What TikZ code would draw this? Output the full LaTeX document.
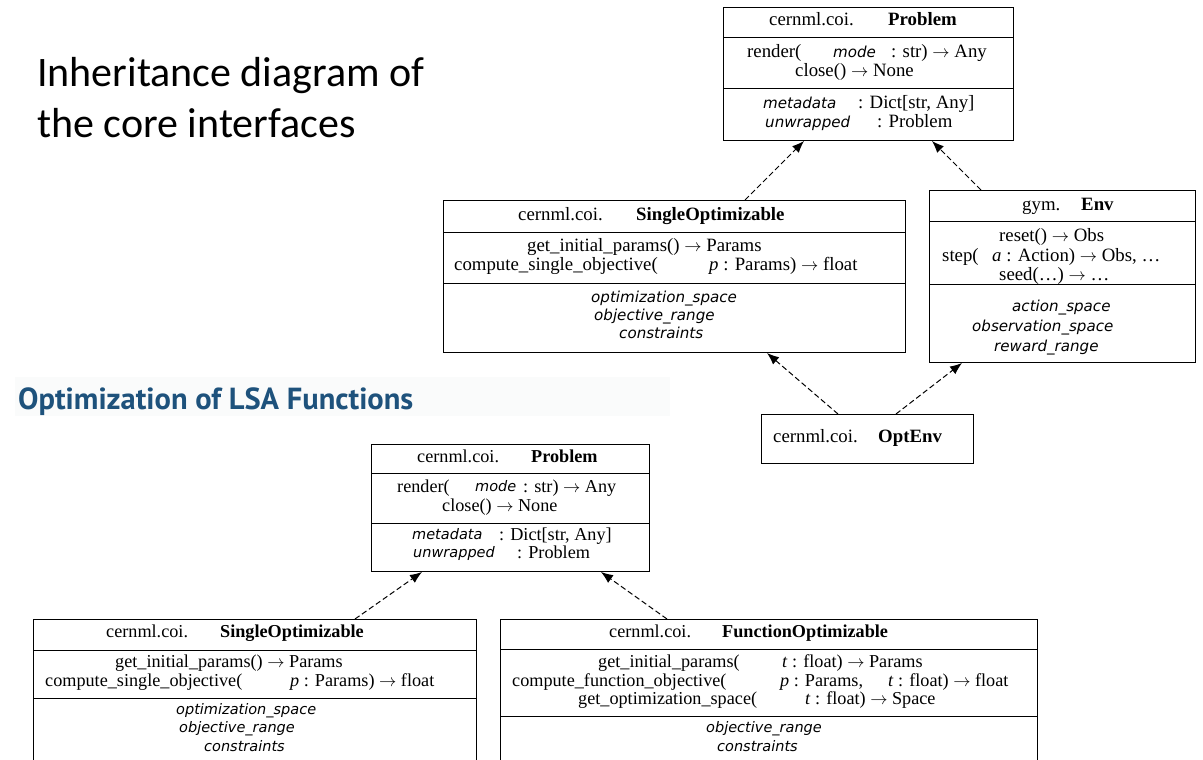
\documentclass[tikz,border=0pt]{standalone}
\usepackage{fontspec}
\setmainfont{Liberation Serif}
\newfontfamily\attrfont{DejaVu Sans}
\newfontfamily\titlefont{Carlito}
\newfontfamily\headfont{PT Sans}
\usetikzlibrary{arrows.meta}
\definecolor{headblue}{RGB}{30,82,124}
\definecolor{stripgray}{RGB}{250,251,251}
\newcommand\fTop{\fontsize{18.8pt}{20pt}\selectfont}
\newcommand\fBot{\fontsize{18.2pt}{20pt}\selectfont}
\newcommand\aTop{\attrfont\itshape\fontsize{15.1pt}{17pt}\selectfont}
\newcommand\aBot{\attrfont\itshape\fontsize{14.5pt}{17pt}\selectfont}
\newcommand\rarr{\ensuremath{\rightarrow}}
\tikzset{
  cls/.style={draw, line width=1pt, inner sep=0pt, anchor=north west},
  ta/.style={anchor=west, inner sep=0pt, text height=13.2pt, text depth=4.7pt, font=\fTop},
  tb/.style={anchor=west, inner sep=0pt, text height=12.8pt, text depth=4.55pt, font=\fBot},
  ia/.style={anchor=west, inner sep=0pt, text height=12pt, text depth=3.75pt, font=\aTop},
  ib/.style={anchor=west, inner sep=0pt, text height=11.5pt, text depth=3.56pt, font=\aBot},
  divline/.style={line width=1pt},
  inh/.style={line width=1pt, dash pattern=on 5.5pt off 3pt, -{Latex[length=12pt,width=9.5pt]}}
}
\begin{document}
\begin{tikzpicture}[x=1pt,y=-1pt]
\useasboundingbox (0,0) rectangle (1203,760);
\clip (0,0) rectangle (1203,760);
\fill[white] (0,0) rectangle (1203,760);

% titles
\node[anchor=base west, inner sep=0pt, font=\titlefont\fontsize{42pt}{50pt}\selectfont] (title1) at (37,87) {Inheritance diagram of};
\node[anchor=base west, inner sep=0pt, font=\titlefont\fontsize{42pt}{50pt}\selectfont] (title2) at (37,137) {the core interfaces};
\fill[stripgray] (15,377) rectangle (670,416);
\node[anchor=base west, inner sep=0pt, text=headblue, font=\headfont\bfseries\fontsize{30.5pt}{33pt}\selectfont] (head) at (18,409) {Optimization of LSA Functions};

% ===== top diagram =====
% Problem
\node[cls, minimum width=290pt, minimum height=133pt] (p1) at (723,7) {};
\draw[divline] (p1.west |- 0,38) -- (p1.east |- 0,38);
\draw[divline] (p1.west |- 0,89) -- (p1.east |- 0,89);
\node[ta] (p1a) at (769,21) {cernml.coi.};
\node[ta] (p1b) at (888,21) {\bfseries Problem};
\node[ta] (p1c) at (747,53) {render(};
\node[ia] (p1d) at (833,53) {mode};
\node[ta] (p1e) at (891,53) {: str) \rarr{} Any};
\node[ta] (p1f) at (795,72) {close() \rarr{} None};
\node[ia] (p1g) at (763,104) {metadata};
\node[ta] (p1h) at (858,104) {: Dict[str, Any]};
\node[ia] (p1i) at (765,123) {unwrapped};
\node[ta] (p1j) at (877,123) {: Problem};

% SingleOptimizable
\node[cls, minimum width=462pt, minimum height=152pt] (s1) at (443,200) {};
\draw[divline] (s1.west |- 0,232) -- (s1.east |- 0,232);
\draw[divline] (s1.west |- 0,283) -- (s1.east |- 0,283);
\node[ta] (s1a) at (518,216) {cernml.coi.};
\node[ta] (s1b) at (636,216) {\bfseries SingleOptimizable};
\node[ta] (s1c) at (527,247) {get\_initial\_params() \rarr{} Params};
\node[ta] (s1d) at (454,266) {compute\_single\_objective(};
\node[ta] (s1e) at (709,266) {\textit{p} : Params) \rarr{} float};
\node[ia] (s1f) at (591,298) {optimization\_space};
\node[ia] (s1g) at (594,316) {objective\_range};
\node[ia] (s1h) at (619,334) {constraints};

% Env
\node[cls, minimum width=266pt, minimum height=172pt] (e1) at (929,190) {};
\draw[divline] (e1.west |- 0,221) -- (e1.east |- 0,221);
\draw[divline] (e1.west |- 0,284) -- (e1.east |- 0,284);
\node[ta] (e1a) at (1022,206) {gym.};
\node[ta] (e1b) at (1081,206) {\bfseries Env};
\node[ta] (e1c) at (999,237) {reset() \rarr{} Obs};
\node[ta] (e1d) at (942,257) {step(};
\node[ta] (e1e) at (992,257) {\textit{a} : Action) \rarr{} Obs, …};
\node[ta] (e1f) at (999,276) {seed(…) \rarr{} …};
\node[ia] (e1g) at (1012,307) {action\_space};
\node[ia] (e1h) at (972,327) {observation\_space};
\node[ia] (e1i) at (994,347) {reward\_range};

% OptEnv
\node[cls, minimum width=212pt, minimum height=49pt] (o1) at (761,414) {};
\node[ta] (o1a) at (773,438) {cernml.coi.};
\node[ta] (o1b) at (878,438) {\bfseries OptEnv};

% arrows top
\draw[inh] (745,0 |- s1.north) -- (804,0 |- p1.south);
\draw[inh] (981,0 |- e1.north) -- (932,0 |- p1.south);
\draw[inh] (838,0 |- o1.north) -- (767,0 |- s1.south);
\draw[inh] (896,0 |- o1.north) -- (962,0 |- e1.south);

% ===== bottom diagram =====
% Problem
\node[cls, minimum width=278pt, minimum height=127pt] (p2) at (371,444) {};
\draw[divline] (p2.west |- 0,473) -- (p2.east |- 0,473);
\draw[divline] (p2.west |- 0,523) -- (p2.east |- 0,523);
\node[tb] (p2a) at (417,458) {cernml.coi.};
\node[tb] (p2b) at (531,458) {\bfseries Problem};
\node[tb] (p2c) at (397,488) {render(};
\node[ib] (p2d) at (475,488) {mode};
\node[tb] (p2e) at (523,488) {: str) \rarr{} Any};
\node[tb] (p2f) at (442,507) {close() \rarr{} None};
\node[ib] (p2g) at (412,536) {metadata};
\node[tb] (p2h) at (499,536) {: Dict[str, Any]};
\node[ib] (p2i) at (413,554) {unwrapped};
\node[tb] (p2j) at (517,554) {: Problem};

% SingleOptimizable
\node[cls, minimum width=443pt, minimum height=160pt] (s2) at (33,619) {};
\draw[divline] (s2.west |- 0,650) -- (s2.east |- 0,650);
\draw[divline] (s2.west |- 0,698) -- (s2.east |- 0,698);
\node[tb] (s2a) at (106,633) {cernml.coi.};
\node[tb] (s2b) at (220,633) {\bfseries SingleOptimizable};
\node[tb] (s2c) at (115,663) {get\_initial\_params() \rarr{} Params};
\node[tb] (s2d) at (45,682) {compute\_single\_objective(};
\node[tb] (s2e) at (290,682) {\textit{p} : Params) \rarr{} float};
\node[ib] (s2f) at (176,711) {optimization\_space};
\node[ib] (s2g) at (179,729) {objective\_range};
\node[ib] (s2h) at (204,748) {constraints};

% FunctionOptimizable
\node[cls, minimum width=537pt, minimum height=160pt] (f2) at (500,619) {};
\draw[divline] (f2.west |- 0,649) -- (f2.east |- 0,649);
\draw[divline] (f2.west |- 0,716) -- (f2.east |- 0,716);
\node[tb] (f2a) at (609,633) {cernml.coi.};
\node[tb] (f2b) at (722,633) {\bfseries FunctionOptimizable};
\node[tb] (f2c) at (598,663) {get\_initial\_params(};
\node[tb] (f2d) at (782,663) {\textit{t} : float) \rarr{} Params};
\node[tb] (f2e) at (512,682) {compute\_function\_objective(};
\node[tb] (f2f) at (780,682) {\textit{p} : Params,};
\node[tb] (f2g) at (888,682) {\textit{t} : float) \rarr{} float};
\node[tb] (f2h) at (578,700) {get\_optimization\_space(};
\node[tb] (f2i) at (805,700) {\textit{t} : float) \rarr{} Space};
\node[ib] (f2j) at (706,729) {objective\_range};
\node[ib] (f2k) at (717,748) {constraints};

% arrows bottom
\draw[inh] (355,0 |- s2.north) -- (422,0 |- p2.south);
\draw[inh] (667,0 |- f2.north) -- (601,0 |- p2.south);
\end{tikzpicture}
\end{document}
